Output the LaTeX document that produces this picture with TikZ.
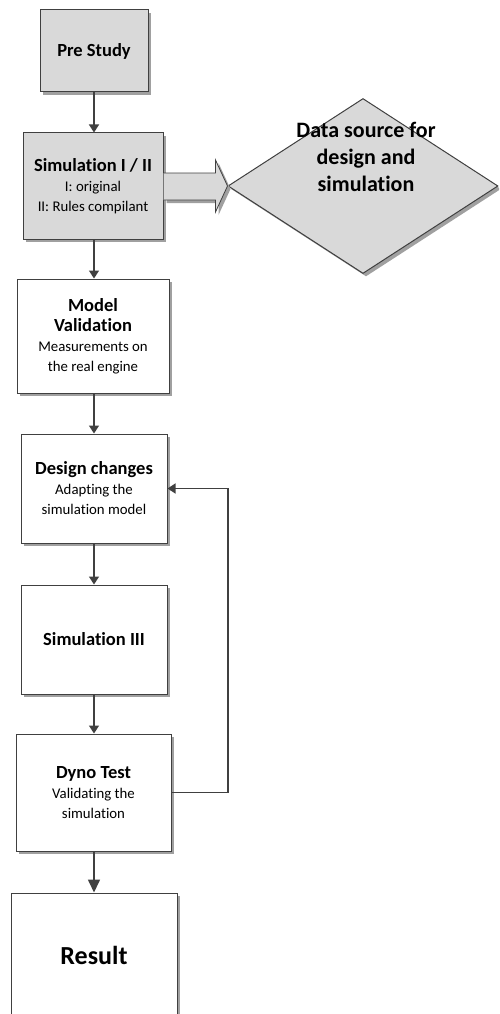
\documentclass[tikz,border=0pt]{standalone}
\usepackage{fontspec}
\setmainfont{Carlito}[Ligatures=NoCommon]
\usetikzlibrary{shapes.geometric,shadows,arrows.meta,calc}
\definecolor{boxgray}{HTML}{D9D9D9}
\definecolor{edge}{HTML}{404040}
\definecolor{shade}{HTML}{A0A0A0}
\newcommand\ttlfont{\fontsize{18.5}{20}\selectfont\bfseries}
\newcommand\subfont{\fontsize{14.8}{20}\selectfont\mdseries}
\newcommand\sub[1]{{\subfont #1}}
\tikzset{
  shad/.style={drop shadow={shadow xshift=3pt,shadow yshift=-3pt,fill=shade,opacity=1}},
  stepbox/.style={draw=edge,line width=1pt,fill=white,shad,inner sep=0pt,align=center,font=\ttlfont},
  graybox/.style={stepbox,fill=boxgray},
  flow/.style={draw=edge,line width=1.4pt,-{Triangle[length=8pt,width=10pt]}},
  bigflow/.style={draw=edge,line width=1.6pt,-{Triangle[length=13pt,width=12pt]}},
}
\begin{document}
\begin{tikzpicture}[x=1pt,y=-1pt]
\useasboundingbox (0,0) rectangle (499,1014);
\clip (0,0) rectangle (499,1014);

% decision diamond and its caption
\node[diamond,draw=edge,fill=boxgray,line width=1pt,shad,inner sep=0pt,
      minimum width=270pt,minimum height=175pt] (src) at (363,186) {};
\node[font=\fontsize{22}{27}\selectfont\bfseries,align=center] (srctext) at (366,157)
  {Data source for\\design and\\simulation};

% process steps
\node[graybox,minimum width=108pt,minimum height=82pt] (pre) at (94,51) {Pre Study};
\node[graybox,minimum width=140pt,minimum height=106pt] (sim) at (93,186)
  {Simulation I / II\\\sub{I: original}\\\sub{II: Rules compilant}};
\node[stepbox,minimum width=152pt,minimum height=114pt] (model) at (93,336)
  {Model\\Validation\\\sub{Measurements on}\\\sub{the real engine}};
\node[stepbox,minimum width=146pt,minimum height=109pt] (design) at (94,488.5)
  {Design changes\\\sub{Adapting the}\\\sub{simulation model}};
\node[stepbox,minimum width=146pt,minimum height=109pt] (sim3) at (94,639.5)
  {Simulation III};
\node[stepbox,minimum width=155pt,minimum height=117pt] (dyno) at (93.5,792.5)
  {Dyno Test\\\sub{Validating the}\\\sub{simulation}};
\node[stepbox,minimum width=166pt,minimum height=124pt,
      font=\fontsize{26}{30}\selectfont\bfseries] (result) at (94,955) {Result};

% block arrow from the simulation step to the data source
\path[fill=boxgray,draw=edge,line width=0.8pt,shad]
  ($(sim.east)+(0,-13)$) -- ++(52,0) -- ++(0,-13) -- (src.west)
  -- ($(sim.east)+(52,26)$) -- ++(0,-12) -- ($(sim.east)+(0,14)$);

% main flow
\coordinate (x94) at (94,0);
\draw[flow] (pre.south -| x94) -- (sim.north -| x94);
\draw[flow] (sim.south -| x94) -- (model.north -| x94);
\draw[flow] (model.south -| x94) -- (design.north -| x94);
\draw[flow] (design.south -| x94) -- (sim3.north -| x94);
\draw[flow] (sim3.south -| x94) -- (dyno.north -| x94);
\draw[bigflow] (dyno.south -| x94) -- (result.north -| x94);

% feedback loop
\coordinate (fb) at (228,0);
\draw[flow] (dyno.east) -- (dyno.east -| fb) -- (design.east -| fb) -- (design.east);
\end{tikzpicture}
\end{document}
